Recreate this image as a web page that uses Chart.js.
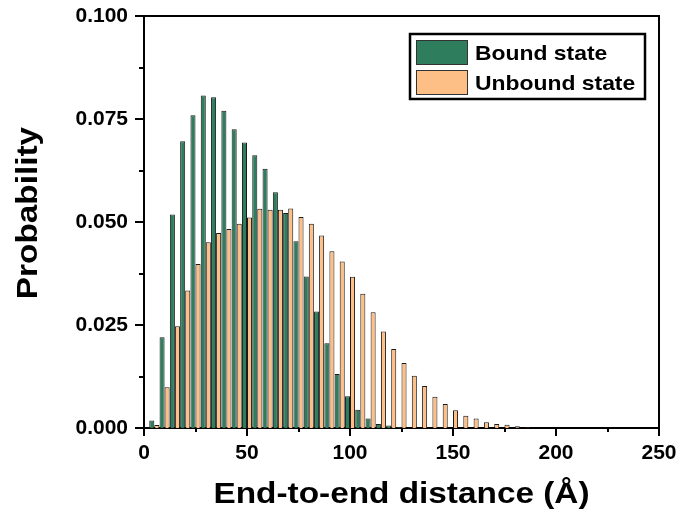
<!DOCTYPE html>
<html>
<head>
<meta charset="utf-8">
<script src="https://cdn.jsdelivr.net/npm/chart.js@4/dist/chart.umd.min.js"></script>
<style>
  html, body { margin: 0; padding: 0; background: #fff; }
  #wrap { width: 684px; height: 515px; }
</style>
</head>
<body>
<div id="wrap"><canvas id="c" width="684" height="515"></canvas></div>
<script>
// Histogram bin centres (Å)
const distances = [5, 10, 15, 20, 25, 30, 35, 40, 45, 50, 55, 60, 65, 70, 75, 80, 85, 90, 95,
  100, 105, 110, 115, 120, 125, 130, 135, 140, 145, 150, 155, 160, 165, 170, 175, 180, 185];

// Probability per bin, bound state
const boundState = [0.0018, 0.0220, 0.0518, 0.0696, 0.0759, 0.0807, 0.0803, 0.0770, 0.0725, 0.0693,
  0.0662, 0.0629, 0.0572, 0.0522, 0.0453, 0.0368, 0.0283, 0.0206, 0.0131, 0.0077,
  0.0044, 0.0023, 0.0010, 0.0006, 0.0002, 0, 0, 0, 0, 0, 0, 0, 0, 0, 0, 0, 0];

// Probability per bin, unbound state
const unboundState = [0.0007, 0.0099, 0.0247, 0.0334, 0.0398, 0.0451, 0.0473, 0.0483, 0.0496, 0.0511,
  0.0532, 0.0530, 0.0530, 0.0533, 0.0512, 0.0496, 0.0467, 0.0429, 0.0404, 0.0367,
  0.0326, 0.0281, 0.0234, 0.0192, 0.0158, 0.0127, 0.0102, 0.0076, 0.0058, 0.0043,
  0.0030, 0.0023, 0.0014, 0.0010, 0.0008, 0.0004, 0.0001];

const seriesLabels = ['Bound state', 'Unbound state'];
const xTickValues = [0, 50, 100, 150, 200, 250];
const yTickValues = [0, 0.025, 0.05, 0.075, 0.1];
const xTitle = 'End-to-end distance (Å)';
const yTitle = 'Probability';

const FONT = "'Liberation Sans', Arial, Helvetica, sans-serif";
const GREEN = '#2E7E5E';
const ORANGE = '#FEBF87';
const EDGE = '#1a1a1a';

const toPoints = (vals) => distances.map((d, i) => ({ x: d, y: vals[i] }));

// Keep the plot box at a fixed place: no extra room for overhanging tick labels
const noOverhang = (s) => { s.paddingTop = 0; s.paddingBottom = 0; s.paddingLeft = 0; s.paddingRight = 0; };

// Outward major / minor tick marks plus the top and right frame lines
const frameTicks = {
  id: 'frameTicks',
  afterDraw(chart) {
    const { ctx, chartArea: a, scales: { x, y } } = chart;
    ctx.save();
    ctx.strokeStyle = '#000';
    ctx.lineWidth = 2;
    ctx.beginPath();
    ctx.moveTo(a.left - 1, a.top);
    ctx.lineTo(a.right, a.top);
    ctx.lineTo(a.right, a.bottom + 1);
    for (let i = 0; i < xTickValues.length; i++) {
      const px = Math.round(x.getPixelForValue(xTickValues[i]));
      ctx.moveTo(px, a.bottom);
      ctx.lineTo(px, a.bottom + 8);
      if (i < xTickValues.length - 1) {
        const pm = Math.round(x.getPixelForValue((xTickValues[i] + xTickValues[i + 1]) / 2));
        ctx.moveTo(pm, a.bottom);
        ctx.lineTo(pm, a.bottom + 4);
      }
    }
    for (let i = 0; i < yTickValues.length; i++) {
      const py = Math.round(y.getPixelForValue(yTickValues[i]));
      ctx.moveTo(a.left, py);
      ctx.lineTo(a.left - 9, py);
      if (i < yTickValues.length - 1) {
        const pm = Math.round(y.getPixelForValue((yTickValues[i] + yTickValues[i + 1]) / 2));
        ctx.moveTo(a.left, pm);
        ctx.lineTo(a.left - 5, pm);
      }
    }
    ctx.stroke();
    ctx.restore();
  }
};

// Wide bold axis titles
const axisTitles = {
  id: 'axisTitles',
  afterDraw(chart) {
    const { ctx, chartArea: a } = chart;
    ctx.save();
    ctx.fillStyle = '#000';
    ctx.font = `bold 29px ${FONT}`;
    ctx.textAlign = 'center';
    ctx.textBaseline = 'alphabetic';
    // horizontal title under the x axis
    ctx.save();
    ctx.translate((a.left + a.right) / 2, 503);
    ctx.scale(1.15, 1);
    ctx.fillText(xTitle, 0, 0);
    ctx.restore();
    // vertical title left of the y axis
    ctx.save();
    ctx.translate(36.5, 213);
    ctx.rotate(-Math.PI / 2);
    ctx.scale(1.15, 1);
    ctx.fillText(yTitle, 0, 0);
    ctx.restore();
    ctx.restore();
  }
};

// Boxed legend in the upper-right corner of the plot
const boxLegend = {
  id: 'boxLegend',
  afterDraw(chart) {
    const { ctx } = chart;
    const bx = 410, by = 34, bw = 235, bh = 65;
    ctx.save();
    ctx.fillStyle = '#fff';
    ctx.fillRect(bx, by, bw, bh);
    ctx.strokeStyle = '#000';
    ctx.lineWidth = 2.5;
    ctx.strokeRect(bx, by, bw, bh);
    ctx.font = `bold 21px ${FONT}`;
    ctx.textBaseline = 'alphabetic';
    ctx.textAlign = 'left';
    chart.data.datasets.forEach((ds, i) => {
      const sy = by + 6 + i * 30;
      ctx.fillStyle = ds.backgroundColor;
      ctx.fillRect(bx + 6, sy, 52, 25);
      ctx.lineWidth = 1;
      ctx.strokeStyle = '#333';
      ctx.strokeRect(bx + 6.5, sy + 0.5, 51, 24);
      ctx.fillStyle = '#000';
      ctx.save();
      ctx.translate(bx + 65, sy + 20);
      ctx.scale(1.09, 1);
      ctx.fillText(ds.label, 0, 0);
      ctx.restore();
    });
    ctx.restore();
  }
};

new Chart(document.getElementById('c'), {
  type: 'bar',
  data: {
    datasets: [
      {
        label: seriesLabels[0],
        data: toPoints(boundState),
        backgroundColor: GREEN,
        borderColor: EDGE,
        borderWidth: 1,
        categoryPercentage: 0.98,
        barPercentage: 1.0
      },
      {
        label: seriesLabels[1],
        data: toPoints(unboundState),
        backgroundColor: ORANGE,
        borderColor: EDGE,
        borderWidth: 1,
        categoryPercentage: 0.98,
        barPercentage: 1.0
      }
    ]
  },
  options: {
    responsive: false,
    animation: false,
    devicePixelRatio: 1,
    layout: { padding: { left: 0, right: 25, top: 16, bottom: 0 } },
    plugins: { legend: { display: false }, tooltip: { enabled: false } },
    scales: {
      x: {
        type: 'linear',
        offset: false,
        min: 0,
        max: 250,
        afterBuildTicks: (s) => { s.ticks = xTickValues.map(v => ({ value: v })); },
        grid: { display: false, drawTicks: false },
        border: { display: true, color: '#000', width: 2 },
        ticks: {
          padding: 13,
          color: '#000',
          maxRotation: 0,
          font: { family: FONT, size: 21, weight: 'bold' }
        },
        afterFit: (s) => { s.height = 87; noOverhang(s); }
      },
      y: {
        min: 0,
        max: 0.1,
        afterBuildTicks: (s) => { s.ticks = yTickValues.map(v => ({ value: v })); },
        grid: { display: false, drawTicks: false },
        border: { display: true, color: '#000', width: 2 },
        ticks: {
          padding: 16,
          color: '#000',
          font: { family: FONT, size: 21, weight: 'bold' },
          callback: (v) => Number(v).toFixed(3)
        },
        afterFit: (s) => { s.width = 144; noOverhang(s); }
      }
    }
  },
  plugins: [frameTicks, axisTitles, boxLegend]
});
</script>
</body>
</html>
